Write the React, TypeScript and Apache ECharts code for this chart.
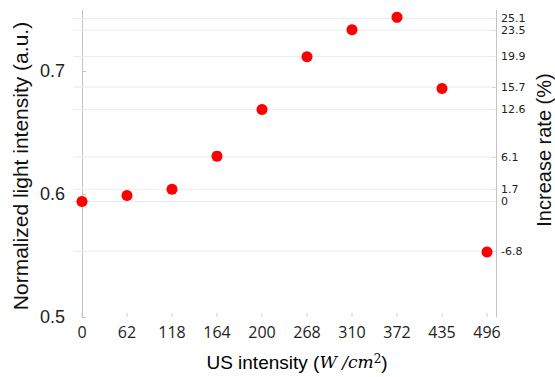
import React, { useEffect, useRef } from "react";
import * as echarts from "echarts";

const categories = ["0", "62", "118", "164", "200", "268", "310", "372", "435", "496"];
const intensity = [0.594, 0.599, 0.604, 0.631, 0.669, 0.712, 0.734, 0.744, 0.686, 0.553];
const rateTicks = [25.1, 23.5, 19.9, 15.7, 12.6, 6.1, 1.7, 0, -6.8];
const leftTicks = [0.5, 0.6, 0.7];
const baseValue = 0.594;
const leftMin = 0.5;
const leftMax = 0.75;
const xMin = -0.2;
const xMax = 9.2;

export default function App() {
  const ref = useRef<HTMLDivElement>(null);
  useEffect(() => {
    if (!ref.current) return;
    const chart = echarts.init(ref.current, null, { renderer: "svg" });
    const axisColor = "#c4c4c4";
    const rateMin = ((leftMin - baseValue) / baseValue) * 100;
    const rateMax = ((leftMax - baseValue) / baseValue) * 100;
    const idx = categories.map((_, i) => i);
    const gridSeries = rateTicks.map((v) => ({
      type: "line",
      yAxisIndex: 1,
      z: 1,
      silent: true,
      symbol: "none",
      lineStyle: { color: "#ececec", width: 1 },
      data: [
        [xMin, v],
        [xMax, v],
      ],
    }));
    chart.setOption({
      animation: false,
      grid: { left: 73, right: 59, top: 10, bottom: 60, containLabel: false },
      xAxis: {
        type: "value",
        min: xMin,
        max: xMax,
        axisLine: { show: true, lineStyle: { color: axisColor } },
        axisTick: { show: false },
        axisLabel: {
          customValues: idx,
          formatter: (v: number) => categories[Math.round(v)] ?? "",
          fontFamily: "Open Sans",
          fontSize: 16,
          color: "#222",
          margin: 7,
        },
        splitLine: { show: false },
      },
      yAxis: [
        {
          type: "value",
          min: leftMin,
          max: leftMax,
          axisLine: { show: true, lineStyle: { color: axisColor } },
          axisTick: { show: true, inside: true, length: 4, customValues: leftTicks, lineStyle: { color: axisColor } },
          axisLabel: {
            customValues: leftTicks,
            formatter: (v: number) => v.toFixed(1),
            fontFamily: "Liberation Sans",
            fontSize: 18,
            color: "#222",
            margin: 8,
          },
          splitLine: { show: false },
        },
        {
          type: "value",
          position: "right",
          min: rateMin,
          max: rateMax,
          axisLine: { show: true, lineStyle: { color: axisColor } },
          axisTick: { show: true, inside: true, length: 4, customValues: rateTicks, lineStyle: { color: axisColor } },
          axisLabel: {
            customValues: rateTicks,
            formatter: (v: number) => (Math.abs(v) < 1e-9 ? "0" : v.toFixed(1)),
            fontFamily: "DejaVu Sans",
            fontSize: 11,
            color: "#222",
            margin: 5,
          },
          splitLine: { show: false },
        },
      ],
      series: [
        ...gridSeries,
        {
          type: "scatter",
          yAxisIndex: 0,
          z: 2,
          silent: true,
          symbol: "rect",
          symbolSize: [1, 4],
          symbolOffset: [0, -2],
          itemStyle: { color: axisColor },
          data: idx.map((i) => [i, leftMin]),
        },
        {
          type: "scatter",
          yAxisIndex: 0,
          z: 3,
          symbol: "circle",
          symbolSize: 11,
          itemStyle: { color: "#ff0000", opacity: 1 },
          data: intensity.map((v, i) => [i, v]),
        },
      ],
      graphic: [
        {
          type: "text",
          x: 20,
          y: 166,
          rotation: Math.PI / 2,
          style: {
            text: "Normalized light intensity (a.u.)",
            fontFamily: "Liberation Sans",
            fontSize: 21,
            fill: "#111",
            align: "center",
            verticalAlign: "middle",
          },
        },
        {
          type: "text",
          x: 544,
          y: 150,
          rotation: Math.PI / 2,
          style: {
            text: "Increase rate (%)",
            fontFamily: "Liberation Sans",
            fontSize: 20,
            fill: "#111",
            align: "center",
            verticalAlign: "middle",
          },
        },
        {
          type: "text",
          x: 297,
          y: 362,
          style: {
            text: "{a|US intensity (}{b|W /cm}{c|2}{a|)}",
            align: "center",
            verticalAlign: "middle",
            rich: {
              a: { fontFamily: "Liberation Sans", fontSize: 19, color: "#111" },
              b: { fontFamily: "DejaVu Serif", fontStyle: "italic", fontSize: 17, color: "#111" },
              c: { fontFamily: "DejaVu Serif", fontSize: 12, color: "#111", verticalAlign: "top", lineHeight: 12 },
            },
          },
        },
      ],
    });
    return () => chart.dispose();
  }, []);
  return <div ref={ref} style={{ width: 555, height: 377, position: "absolute", left: 0, top: 0 }} />;
}
